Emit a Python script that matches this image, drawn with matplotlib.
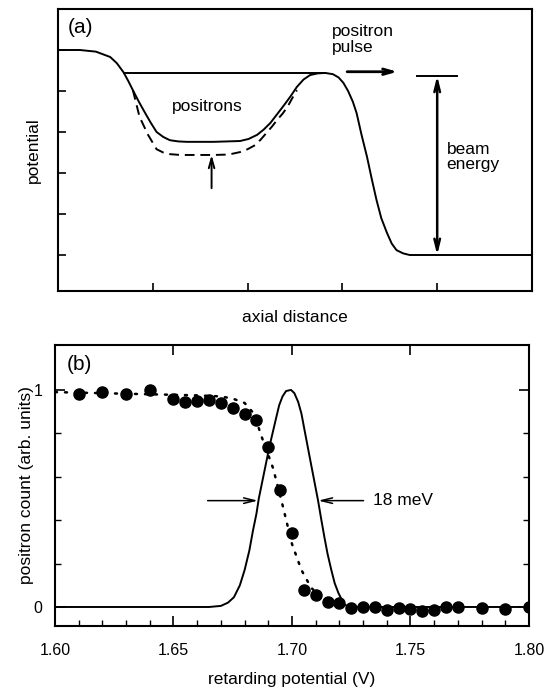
import numpy as np
import matplotlib
matplotlib.use('Agg')
import matplotlib.pyplot as plt

plt.rcParams['font.family'] = ['Liberation Sans', 'DejaVu Sans']

# ---- panel (a): potential profile (arbitrary units)
pot_x = [0.00, 0.23, 0.40, 0.55, 0.62, 0.69, 0.74, 0.79, 0.85, 0.92, 0.98, 1.04,
         1.11, 1.18, 1.27, 1.36, 1.50, 1.64, 1.78, 1.92, 2.01, 2.10, 2.17, 2.24,
         2.30, 2.37, 2.45, 2.52, 2.59, 2.66, 2.74, 2.82, 2.90, 2.96, 3.01, 3.06,
         3.11, 3.15, 3.20, 3.26, 3.31, 3.36, 3.41, 3.47, 3.52, 3.57, 3.64, 3.71,
         4.00, 5.00]
pot_y = [5.00, 5.00, 4.96, 4.83, 4.68, 4.46, 4.25, 4.02, 3.75, 3.46, 3.22, 3.00,
         2.88, 2.80, 2.77, 2.76, 2.76, 2.76, 2.77, 2.78, 2.83, 2.93, 3.06, 3.22,
         3.40, 3.61, 3.86, 4.10, 4.28, 4.39, 4.43, 4.44, 4.41, 4.33, 4.20, 4.00,
         3.74, 3.46, 2.95, 2.39, 1.85, 1.34, 0.90, 0.54, 0.28, 0.12, 0.04, 0.00,
         0.00, 0.00]

# dashed well (lowered potential)
dash_x = [0.79, 0.86, 0.95, 1.04, 1.11, 1.18, 1.29, 1.45, 1.64, 1.80, 1.92,
          2.00, 2.08, 2.14, 2.20, 2.26, 2.31, 2.37, 2.42, 2.47, 2.52]
dash_y = [4.02, 3.37, 2.93, 2.58, 2.50, 2.46, 2.44, 2.44, 2.44, 2.45, 2.51,
          2.58, 2.68, 2.82, 2.98, 3.14, 3.29, 3.45, 3.61, 3.82, 4.02]

# ---- panel (b): retarding potential scan
v_pts = [1.610, 1.620, 1.630, 1.640, 1.650, 1.655, 1.660, 1.665, 1.670, 1.675,
         1.680, 1.685, 1.690, 1.695, 1.700, 1.705, 1.710, 1.715, 1.720, 1.725,
         1.730, 1.735, 1.740, 1.745, 1.750, 1.755, 1.760, 1.765, 1.770, 1.780,
         1.790, 1.800]
count_pts = [0.98, 0.99, 0.98, 1.00, 0.96, 0.945, 0.95, 0.955, 0.94, 0.915,
             0.89, 0.86, 0.735, 0.54, 0.34, 0.08, 0.055, 0.025, 0.02, -0.005,
             0.00, 0.00, -0.015, -0.005, -0.01, -0.02, -0.015, 0.00, 0.00, -0.005,
             -0.01, 0.00]

# dotted fit through the points
fit_v = [1.600, 1.620, 1.640, 1.660, 1.670, 1.675, 1.680, 1.684, 1.687, 1.692,
         1.696, 1.700, 1.704, 1.708, 1.712, 1.716, 1.720]
fit_c = [0.99, 0.985, 0.98, 0.975, 0.97, 0.96, 0.94, 0.89, 0.79, 0.64,
         0.47, 0.29, 0.17, 0.09, 0.045, 0.02, 0.01]

# energy distribution (solid)
dist_v = [1.600, 1.665, 1.670, 1.673, 1.6755, 1.678, 1.680, 1.682, 1.6835, 1.685,
          1.686, 1.6875, 1.689, 1.6905, 1.692, 1.6935, 1.6946, 1.696, 1.6975, 1.6996,
          1.701, 1.7026, 1.704, 1.7052, 1.7066, 1.708, 1.7095, 1.711, 1.7124, 1.7137,
          1.715, 1.7166, 1.718, 1.7196, 1.7221, 1.725, 1.800]
dist_c = [0.0, 0.0, 0.005, 0.02, 0.045, 0.10, 0.17, 0.26, 0.35, 0.43,
          0.50, 0.58, 0.66, 0.74, 0.81, 0.88, 0.93, 0.97, 0.995, 1.0,
          0.985, 0.945, 0.89, 0.82, 0.74, 0.66, 0.575, 0.49, 0.40, 0.32,
          0.245, 0.17, 0.11, 0.064, 0.01, 0.0, 0.0]

fig = plt.figure(figsize=(5.53, 6.88), dpi=100)
ax1 = fig.add_axes([58/553, 1-291/688, 474/553, 282/688])
ax2 = fig.add_axes([55/553, 1-626/688, 474/553, 281/688])

lw = 1.4
for ax in (ax1, ax2):
    for s in ax.spines.values():
        s.set_linewidth(1.5)

# panel (a)
ax1.plot(pot_x, pot_y, 'k-', lw=lw)
ax1.plot(dash_x, dash_y, 'k--', lw=lw, dashes=(5, 3))
ax1.plot([0.70, 2.82], [4.44, 4.44], 'k-', lw=lw)
ax1.annotate('', xy=(1.62, 2.44), xytext=(1.62, 1.63),
             arrowprops=dict(arrowstyle='->,head_length=0.7,head_width=0.2', lw=lw, color='k',
                             shrinkA=0, shrinkB=0))
ax1.annotate('', xy=(3.58, 4.47), xytext=(3.05, 4.47),
             arrowprops=dict(arrowstyle='->,head_length=0.7,head_width=0.2', lw=2, color='k',
                             shrinkA=0, shrinkB=0))
ax1.plot([3.79, 4.21], [4.37, 4.37], 'k-', lw=lw)
ax1.annotate('', xy=(4.0, 4.37), xytext=(4.0, 0.0),
             arrowprops=dict(arrowstyle='<->,head_length=0.8,head_width=0.2', lw=1.8, color='k',
                             shrinkA=0, shrinkB=0))
ax1.text(1.57, 3.61, 'positrons', ha='center', va='center', fontsize=12.5)
ax1.text(2.89, 5.26, 'positron\npulse', ha='left', va='center', fontsize=12.5,
         linespacing=1.05)
ax1.text(4.10, 2.39, 'beam\nenergy', ha='left', va='center', fontsize=12.5,
         linespacing=1.05)
ax1.text(0.021, 0.933, '(a)', transform=ax1.transAxes, ha='left', va='center',
         fontsize=15)
ax1.set_xlim(0, 5)
ax1.set_ylim(-0.878, 6.0)
ax1.set_xticks([1, 2, 3, 4])
ax1.set_yticks([0, 1, 2, 3, 4, 5])
ax1.tick_params(direction='in', length=6, width=1.2, labelbottom=False, labelleft=False)
ax1.set_xlabel('axial distance', fontsize=12.5, labelpad=14)
ax1.set_ylabel('potential', fontsize=12.5)
ax1.yaxis.set_label_coords(-0.036, 0.5)

# panel (b)
ax2.plot(dist_v, dist_c, 'k-', lw=lw)
ax2.plot(fit_v, fit_c, color='k', lw=1.8, linestyle=(0, (0.8, 3.2)), dash_capstyle='round')
ax2.plot(v_pts, count_pts, 'ko', ms=8)
ax2.annotate('', xy=(1.6856, 0.49), xytext=(1.6644, 0.49),
             arrowprops=dict(arrowstyle='->,head_length=0.8,head_width=0.2', lw=1.1, color='k',
                             shrinkA=0, shrinkB=0))
ax2.annotate('', xy=(1.7111, 0.49), xytext=(1.7302, 0.49),
             arrowprops=dict(arrowstyle='->,head_length=0.8,head_width=0.2', lw=1.1, color='k',
                             shrinkA=0, shrinkB=0))
ax2.text(1.7343, 0.49, '18 meV', ha='left', va='center', fontsize=12.5)
ax2.text(0.025, 0.932, '(b)', transform=ax2.transAxes, ha='left', va='center',
         fontsize=15)
ax2.set_xlim(1.60, 1.80)
ax2.set_ylim(-0.0876, 1.207)
ax2.set_xticks([1.60, 1.65, 1.70, 1.75, 1.80])
ax2.set_xticklabels(['1.60', '1.65', '1.70', '1.75', '1.80'])
ax2.set_xticks(np.arange(1.60, 1.801, 0.01), minor=True)
ax2.set_yticks([0, 1])
ax2.set_yticklabels(['0', '1'])
ax2.set_yticks([0.2, 0.4, 0.6, 0.8], minor=True)
ax2.tick_params(which='major', direction='in', length=7, width=1.2, top=True,
                right=True, labelsize=11.5)
ax2.tick_params(axis='x', which='major', pad=12)
ax2.tick_params(axis='y', which='major', pad=9)
ax2.tick_params(which='minor', direction='in', length=4, width=1.0, right=True)
ax2.set_xlabel('retarding potential (V)', fontsize=12.5, labelpad=10)
ax2.set_ylabel('positron count (arb. units)', fontsize=12.5)
ax2.yaxis.set_label_coords(-0.044, 0.5)

fig.savefig('out.png', dpi=100)
